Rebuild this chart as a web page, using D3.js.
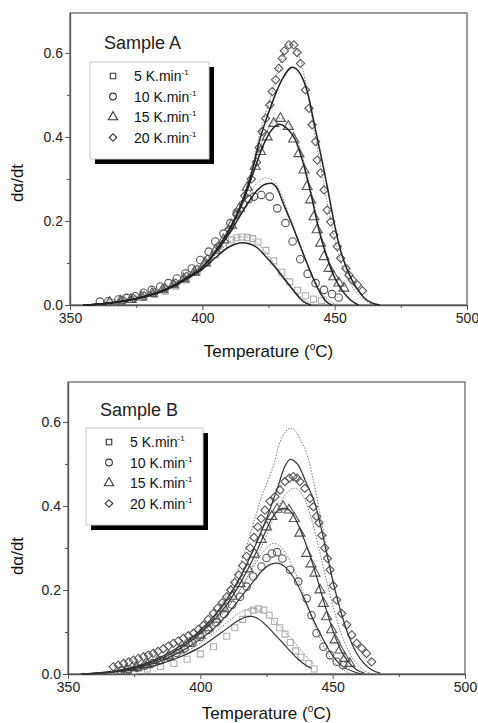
<!DOCTYPE html>
<html lang="en">
<head>
<meta charset="UTF-8">
<title>dα/dt vs Temperature</title>
<script src="https://d3js.org/d3.v7.min.js"></script>
<style>
  body { margin: 0; background: #fff; }
  svg { display: block; font-family: "Liberation Sans", Arial, sans-serif; }
  .tick text { fill: #222; }
  .domain, .tick line { stroke: #555; }
</style>
</head>
<body>
<script>
// ---- data: Sample A ----
const rates = ["5", "10", "15", "20"];
// diamond drawn as a square turned 45 degrees
const symbolsUsed = [d3.symbolSquare, d3.symbolCircle, d3.symbolTriangle, d3.symbolSquare];
const symRotate = [0, 0, 0, 45];

const solidA5 = [[355,0],[360,0.002],[365,0.005],[370,0.009],[375,0.015],[380,0.023],[385,0.033],[390,0.047],[395,0.065],[400,0.085],[405,0.113],[410,0.138],[413,0.146],[415,0.148],[418,0.145],[421,0.135],[424,0.115],[427,0.094],[430,0.07],[433,0.046],[435,0.03],[437,0.015],[439,0.005],[441,0]];
const solidA10 = [[355,0],[360,0.002],[365,0.005],[370,0.009],[375,0.015],[380,0.023],[385,0.034],[390,0.049],[395,0.068],[400,0.09],[405,0.125],[410,0.168],[414,0.21],[418,0.25],[421,0.275],[424,0.288],[426,0.29],[428,0.28],[431,0.235],[434,0.19],[437,0.14],[440,0.092],[443,0.048],[445,0.024],[447,0.007],[449,0]];
const solidA15 = [[355,0],[360,0.002],[365,0.005],[370,0.009],[375,0.015],[380,0.023],[385,0.034],[390,0.049],[395,0.068],[400,0.09],[405,0.127],[410,0.175],[415,0.24],[419,0.31],[423,0.38],[426,0.415],[429,0.43],[432,0.42],[435,0.395],[438,0.34],[441,0.265],[444,0.18],[447,0.115],[450,0.065],[453,0.033],[456,0.012],[459,0]];
const solidA20 = [[355,0],[360,0.002],[365,0.005],[370,0.009],[375,0.015],[380,0.023],[385,0.034],[390,0.049],[395,0.068],[400,0.09],[405,0.128],[410,0.178],[415,0.245],[418,0.3],[422,0.4],[426,0.475],[430,0.535],[434,0.566],[437,0.55],[440,0.5],[442,0.44],[444,0.38],[446,0.32],[448,0.255],[450,0.19],[452,0.135],[455,0.08],[458,0.043],[461,0.018],[464,0.005],[467,0]];

const dotA5 = [[358,0],[365,0.006],[375,0.017],[385,0.037],[395,0.072],[400,0.093],[405,0.12],[410,0.148],[414,0.162],[417,0.162],[420,0.152],[423,0.133],[427,0.1],[431,0.065],[435,0.033],[438,0.015],[441,0.004],[444,0]];
const dotA10 = [[358,0],[365,0.006],[375,0.017],[385,0.037],[395,0.073],[400,0.097],[405,0.133],[410,0.18],[414,0.225],[418,0.268],[421,0.292],[424,0.302],[427,0.295],[430,0.26],[433,0.21],[436,0.16],[439,0.11],[442,0.065],[445,0.03],[448,0.01],[451,0]];
const dotA15 = [[358,0],[365,0.006],[375,0.017],[385,0.037],[395,0.073],[400,0.097],[405,0.134],[410,0.18],[415,0.25],[419,0.325],[423,0.395],[426,0.43],[429,0.445],[432,0.435],[435,0.405],[438,0.35],[441,0.275],[444,0.19],[447,0.12],[450,0.068],[453,0.034],[456,0.012],[459,0]];
const dotA20 = [[358,0],[365,0.006],[375,0.017],[385,0.037],[395,0.073],[400,0.097],[405,0.134],[410,0.18],[415,0.25],[418,0.31],[422,0.415],[426,0.5],[429,0.568],[431,0.605],[433,0.622],[435,0.615],[437,0.585],[439,0.53],[441,0.46],[443,0.39],[445,0.32],[447,0.25],[449,0.185],[451,0.13],[454,0.075],[457,0.04],[460,0.018],[463,0.005],[466,0]];

const ptsA5 = [[366,0.006],[370,0.009],[374,0.013],[378,0.018],[382,0.025],[386,0.033],[390,0.045],[394,0.06],[398,0.078],[402,0.1],[405,0.12],[408,0.14],[411,0.155],[413,0.16],[415,0.162],[417,0.161],[419,0.158],[421,0.15],[424,0.13],[427,0.105],[430,0.078],[433,0.055],[436,0.035],[439,0.022],[442,0.014],[445,0.01]];
const ptsA10 = [[361.3,0.008],[364.5,0.009],[368.3,0.013],[371.4,0.017],[374.6,0.021],[377.8,0.029],[380.9,0.036],[384.1,0.044],[387.2,0.052],[390.4,0.063],[393.6,0.075],[396,0.087],[399.2,0.107],[402.4,0.127],[404.9,0.151],[408,0.17],[410.6,0.195],[413,0.22],[415.5,0.24],[417.5,0.252],[419.5,0.258],[422.3,0.262],[425.5,0.258],[428.3,0.23],[431.4,0.195],[434.1,0.151],[437,0.109],[439.8,0.074],[442.8,0.052],[446,0.036],[449,0.026],[451.5,0.018]];
const ptsA15 = [[365,0.006],[369,0.009],[373,0.013],[377,0.019],[381,0.027],[385,0.036],[389,0.048],[393,0.062],[397,0.078],[401,0.1],[405,0.13],[408,0.155],[411,0.19],[414,0.23],[417,0.28],[420,0.33],[422,0.365],[424.5,0.4],[427,0.432],[429.5,0.444],[432.5,0.425],[434.5,0.395],[436.5,0.36],[438.4,0.321],[439.6,0.282],[440.9,0.25],[442.2,0.21],[443.4,0.179],[444.7,0.147],[446,0.115],[447.9,0.087],[449.7,0.067],[451.6,0.052],[453.5,0.04]];
const ptsA20 = [[370,0.012],[374,0.016],[378,0.022],[382,0.03],[386,0.04],[390,0.052],[394,0.068],[398,0.085],[402,0.11],[406,0.14],[410,0.18],[413,0.215],[416,0.26],[418.5,0.3],[420.5,0.34],[421.5,0.375],[422.6,0.413],[423.9,0.444],[425.5,0.476],[426.4,0.508],[427.7,0.536],[428.9,0.563],[430.2,0.587],[431,0.605],[432.7,0.619],[434.6,0.619],[435.8,0.601],[437.1,0.575],[439,0.512],[440.3,0.468],[441.5,0.429],[442.8,0.389],[443.4,0.345],[444.7,0.314],[446,0.274],[447.2,0.226],[448.5,0.198],[449.7,0.167],[451,0.139],[452.3,0.111],[454.2,0.087],[455.4,0.071],[456.7,0.06],[458.6,0.048],[460.5,0.034]];

// ---- data: Sample B ----
const solidB5 = [[355,0],[360,0.001],[365,0.003],[370,0.006],[375,0.01],[380,0.016],[385,0.024],[390,0.035],[395,0.048],[400,0.064],[405,0.085],[410,0.108],[414,0.126],[417,0.135],[419,0.137],[422,0.131],[425,0.115],[428,0.095],[431,0.075],[434,0.054],[437,0.035],[440,0.02],[442,0.013]];
const solidB10 = [[355,0],[360,0.001],[365,0.004],[370,0.008],[375,0.013],[380,0.021],[385,0.031],[390,0.045],[395,0.062],[400,0.083],[405,0.108],[410,0.14],[415,0.18],[420,0.22],[424,0.25],[427,0.262],[429,0.264],[432,0.255],[435,0.232],[438.9,0.184],[442.7,0.129],[446.5,0.081],[450.3,0.041],[454,0.017],[457.8,0.006],[461,0]];
const solidB15 = [[355,0],[360,0.002],[365,0.004],[370,0.009],[375,0.015],[380,0.024],[385,0.036],[390,0.052],[395,0.072],[400,0.097],[405,0.127],[410,0.165],[415,0.215],[420,0.275],[424,0.33],[427,0.37],[429.5,0.39],[432,0.395],[435,0.38],[438,0.34],[441,0.29],[444,0.23],[447,0.165],[450,0.105],[453,0.058],[456,0.028],[459,0.01],[462,0.002]];
const solidB20 = [[355,0],[360,0.002],[365,0.005],[370,0.01],[375,0.017],[380,0.027],[385,0.04],[390,0.057],[395,0.078],[400,0.104],[405,0.137],[410,0.178],[415,0.23],[420,0.295],[425,0.37],[429,0.44],[432,0.495],[434,0.511],[437,0.497],[440,0.455],[443.3,0.406],[445.8,0.343],[448,0.28],[450.5,0.21],[453,0.15],[456,0.092],[459,0.05],[462,0.024],[465,0.009],[468,0.002]];

const dotB5 = [[355,0],[365,0.004],[375,0.012],[385,0.028],[395,0.055],[400,0.073],[405,0.097],[410,0.122],[414,0.142],[417,0.153],[420,0.156],[423,0.15],[426,0.135],[429,0.12],[432,0.1],[435,0.08],[438,0.057],[441,0.035],[443,0.022]];
const dotB10 = [[358,0],[365,0.005],[375,0.016],[385,0.036],[395,0.07],[400,0.093],[405,0.122],[410,0.158],[415,0.2],[419,0.243],[422,0.275],[425,0.3],[427.5,0.311],[430,0.305],[433,0.28],[436,0.24],[439,0.19],[442,0.135],[445,0.088],[448,0.05],[451,0.025],[454,0.01],[457,0]];
const dotB15 = [[358,0],[365,0.004],[375,0.014],[385,0.033],[395,0.066],[400,0.088],[405,0.118],[410,0.155],[415,0.2],[420,0.26],[425,0.33],[429,0.39],[432,0.425],[435.5,0.442],[438,0.432],[441,0.39],[444,0.32],[447,0.24],[450,0.165],[453,0.1],[456,0.055],[459,0.025],[462,0.008],[465,0]];
const dotB20 = [[358,0],[365,0.005],[375,0.016],[385,0.038],[395,0.072],[400,0.095],[405,0.135],[410,0.19],[415,0.26],[418,0.315],[420.6,0.37],[423,0.42],[425.5,0.46],[427.6,0.495],[430,0.55],[432,0.575],[434,0.585],[436,0.578],[438,0.555],[440.2,0.525],[442.7,0.462],[445.2,0.382],[448,0.29],[451,0.2],[454,0.13],[457,0.075],[460,0.04],[463,0.018],[466,0.006]];

const ptsB5 = [[375,0.008],[380,0.012],[385,0.018],[390,0.025],[395,0.035],[400,0.048],[405,0.065],[410,0.09],[413,0.11],[416,0.13],[418,0.145],[420,0.152],[422,0.155],[424,0.152],[426,0.14],[428,0.125],[430,0.11],[432,0.095],[434,0.075],[436,0.055],[438,0.04],[441,0.025],[443,0.012]];
const ptsB10 = [[370,0.008],[373,0.011],[376,0.015],[379,0.02],[382,0.026],[385,0.033],[388,0.041],[391,0.05],[394,0.061],[397,0.074],[400,0.088],[403,0.105],[406,0.123],[409,0.143],[412,0.165],[415,0.184],[417.5,0.208],[420,0.232],[423.1,0.256],[425,0.276],[427,0.287],[429,0.29],[431,0.275],[433.9,0.248],[437,0.22],[440.2,0.18],[442,0.14],[443.9,0.097],[446.5,0.065],[449,0.045],[451.5,0.029],[454,0.021]];
const ptsB15 = [[372,0.01],[376,0.015],[380,0.022],[384,0.032],[388,0.043],[392,0.057],[396,0.073],[400,0.093],[403,0.11],[406,0.13],[409,0.155],[412,0.185],[415,0.215],[418,0.25],[420.5,0.285],[423,0.32],[425,0.35],[427,0.375],[429,0.392],[431.3,0.398],[433.5,0.39],[435.5,0.37],[437.6,0.335],[440.2,0.287],[441.8,0.262],[443.3,0.24],[445.2,0.2],[446.5,0.168],[447.7,0.136],[449.6,0.105],[450.9,0.081],[452.8,0.057],[454.6,0.037],[456.5,0.025]];
const ptsB20 = [[367.1,0.017],[369,0.021],[371,0.025],[373,0.029],[374.7,0.033],[376.6,0.037],[378.5,0.041],[380.4,0.045],[382.2,0.049],[384,0.054],[386,0.06],[388,0.067],[389.8,0.073],[391.7,0.079],[393.6,0.085],[395.5,0.091],[397.4,0.097],[399.3,0.106],[401.2,0.116],[403,0.13],[404.9,0.144],[406.6,0.157],[408.3,0.17],[410,0.184],[411.5,0.2],[413,0.218],[414.5,0.236],[416,0.258],[417.5,0.28],[418.8,0.3],[420.3,0.325],[421.7,0.35],[423,0.37],[424.4,0.39],[426.3,0.411],[428.2,0.422],[430.1,0.438],[432,0.458],[433.6,0.466],[435.1,0.47],[436.5,0.466],[437.6,0.458],[439.5,0.442],[441.4,0.418],[442.7,0.398],[443.9,0.375],[444.8,0.36],[445.9,0.33],[447,0.3],[448,0.275],[449,0.248],[450.2,0.21],[451.5,0.176],[453.4,0.144],[455.3,0.117],[457.2,0.093],[459.1,0.073],[461,0.061],[462.8,0.049],[464.7,0.029]];

const xTicks = [350, 400, 450, 500];
const xMinor = [375, 425, 475];
const yTicks = [0, 0.2, 0.4, 0.6];
const yMinor = [0.1, 0.3, 0.5];

const W = 478, H = 723;
const svg = d3.select("body").append("svg").attr("width", W).attr("height", H);

const panels = [
  { title: "Sample A", left: 70, right: 467, top: 13, bottom: 305, solidW: 1.5, solidC: "#222",
    solid: [solidA5, solidA10, solidA15, solidA20],
    dotted: [dotA5, dotA10, dotA15, dotA20],
    pts: [ptsA5, ptsA10, ptsA15, ptsA20],
    legend: { x: 90, y: 62, w: 119, h: 97 }, titleX: 104, titleY: 49, ylabY: 183, xlabY: 357 },
  { title: "Sample B", left: 68, right: 465, top: 382, bottom: 674, solidW: 1.2, solidC: "#333",
    solid: [solidB5, solidB10, solidB15, solidB20],
    dotted: [dotB5, dotB10, dotB15, dotB20],
    pts: [ptsB5, ptsB10, ptsB15, ptsB20],
    legend: { x: 86, y: 428, w: 117, h: 97 }, titleX: 100, titleY: 416, ylabY: 556, xlabY: 719 }
];

// symbol areas: square, circle, triangle, diamond
const symSize = [36, 44, 44, 34];
const legSize = [30, 36, 38, 28];

panels.forEach(p => drawPanel(p));

function drawPanel(p) {
  const x = d3.scaleLinear().domain([350, 500]).range([p.left, p.right]);
  const y = d3.scaleLinear().domain([0, 0.695]).range([p.bottom, p.top]);
  const g = svg.append("g");

  // frame
  g.append("rect")
    .attr("x", p.left).attr("y", p.top)
    .attr("width", p.right - p.left).attr("height", p.bottom - p.top)
    .attr("fill", "none").attr("stroke", "#666").attr("stroke-width", 1.3);

  // axes
  const xAxis = g.append("g").attr("transform", `translate(0,${p.bottom})`)
    .call(d3.axisBottom(x).tickValues(xTicks).tickSize(5).tickPadding(3).tickSizeOuter(0));
  g.append("g").attr("transform", `translate(0,${p.bottom})`)
    .call(d3.axisBottom(x).tickValues(xMinor).tickSize(3).tickFormat("").tickSizeOuter(0))
    .select(".domain").remove();
  const yAxis = g.append("g").attr("transform", `translate(${p.left},0)`)
    .call(d3.axisLeft(y).tickValues(yTicks).tickFormat(d3.format(".1f")).tickSize(5).tickPadding(2).tickSizeOuter(0));
  g.append("g").attr("transform", `translate(${p.left},0)`)
    .call(d3.axisLeft(y).tickValues(yMinor).tickSize(3).tickFormat("").tickSizeOuter(0))
    .select(".domain").remove();
  g.selectAll(".domain").attr("stroke-width", 1.3);
  xAxis.selectAll(".tick text").attr("font-size", 14);
  yAxis.selectAll(".tick text").attr("font-size", 14);

  // labels
  g.append("text").attr("x", (p.left + p.right) / 2).attr("y", p.xlabY)
    .attr("text-anchor", "middle").attr("font-size", 17).attr("fill", "#111")
    .call(t => {
      t.append("tspan").text("Temperature (");
      t.append("tspan").attr("dy", -7).attr("font-size", 10).text("o");
      t.append("tspan").attr("dy", 7).text("C)");
    });
  g.append("text").attr("transform", `translate(23,${p.ylabY}) rotate(-90)`)
    .attr("text-anchor", "middle").attr("font-size", 17).attr("fill", "#111")
    .text("dα/dt");

  const line = d3.line().x(d => x(d[0])).y(d => y(d[1])).curve(d3.curveMonotoneX);

  // dotted model curves
  p.dotted.forEach(c => {
    g.append("path").datum(c).attr("d", line)
      .attr("fill", "none").attr("stroke", "#7a7a7a").attr("stroke-width", 1)
      .attr("stroke-dasharray", "1.5,1.5");
  });

  // data symbols
  p.pts.forEach((s, i) => {
    const sym = d3.symbol().type(symbolsUsed[i]).size(symSize[i]);
    g.append("g").selectAll("path").data(s).join("path")
      .attr("transform", d => `translate(${x(d[0])},${y(d[1])}) rotate(${symRotate[i]})`)
      .attr("d", sym)
      .attr("fill", "none")
      .attr("stroke", i === 0 ? "#b0b0b0" : "#555")
      .attr("stroke-width", 1.1);
  });

  // solid model curves
  p.solid.forEach(c => {
    g.append("path").datum(c).attr("d", line)
      .attr("fill", "none").attr("stroke", p.solidC).attr("stroke-width", p.solidW);
  });

  // title
  g.append("text").attr("x", p.titleX).attr("y", p.titleY)
    .attr("font-size", 18).attr("fill", "#222").text(p.title);

  // legend
  const L = p.legend;
  g.append("rect").attr("x", L.x + 5).attr("y", L.y + 5).attr("width", L.w).attr("height", L.h).attr("fill", "#000");
  g.append("rect").attr("x", L.x).attr("y", L.y).attr("width", L.w).attr("height", L.h)
    .attr("fill", "#fff").attr("stroke", "#ccc").attr("stroke-width", 1);
  rates.forEach((r, i) => {
    const cy = L.y + 14 + i * 20.5;
    g.append("path").attr("transform", `translate(${L.x + 23},${cy}) rotate(${symRotate[i]})`)
      .attr("d", d3.symbol().type(symbolsUsed[i]).size(legSize[i]))
      .attr("fill", "none").attr("stroke", "#333").attr("stroke-width", 1.1);
    const t = g.append("text").attr("x", L.x + 44).attr("y", cy + 5)
      .attr("font-size", 14).attr("fill", "#111");
    t.append("tspan").text(`${r} K.min`);
    t.append("tspan").attr("dy", -6).attr("font-size", 8).text("-1");
  });
}
</script>
</body>
</html>
